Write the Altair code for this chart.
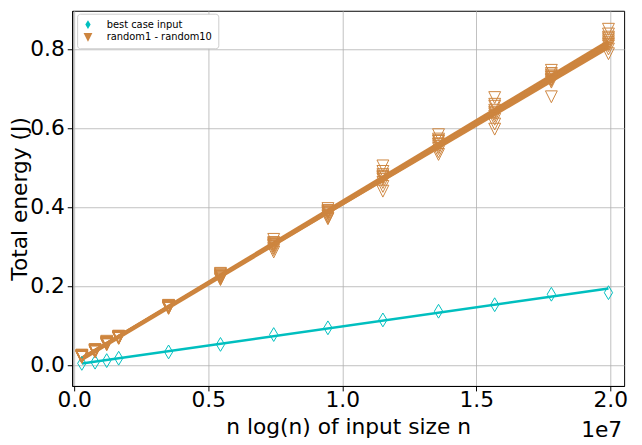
import altair as alt
import pandas as pd

# n log2(n) for n = 20k, 50k, 75k, 100k, 200k ... 1M
x_vals = [285754, 780482, 1214593, 1660964, 3521928, 5458381, 7443856,
          9465784, 11516762, 13591897, 15687712, 17801532, 19931569]

best_case = [0.004, 0.007, 0.011, 0.017, 0.033, 0.052, 0.077, 0.094,
             0.114, 0.136, 0.1525, 0.179, 0.183]

random1 = [0.024, 0.034, 0.058, 0.068, 0.150, 0.218, 0.318, 0.376, 0.504, 0.548, 0.677, 0.720, 0.812]
random2 = [0.022, 0.038, 0.052, 0.072, 0.143, 0.232, 0.292, 0.396, 0.462, 0.583, 0.622, 0.746, 0.808]
random3 = [0.020, 0.036, 0.055, 0.070, 0.148, 0.222, 0.310, 0.380, 0.482, 0.540, 0.660, 0.722, 0.826]
random4 = [0.023, 0.035, 0.057, 0.069, 0.145, 0.228, 0.296, 0.390, 0.452, 0.572, 0.610, 0.738, 0.830]
random5 = [0.021, 0.037, 0.054, 0.071, 0.151, 0.216, 0.305, 0.372, 0.490, 0.553, 0.655, 0.679, 0.850]
random6 = [0.025, 0.033, 0.056, 0.073, 0.146, 0.226, 0.286, 0.388, 0.476, 0.566, 0.645, 0.730, 0.788]
random7 = [0.019, 0.039, 0.051, 0.067, 0.149, 0.224, 0.302, 0.384, 0.440, 0.560, 0.597, 0.734, 0.838]
random8 = [0.022, 0.036, 0.060, 0.070, 0.147, 0.220, 0.308, 0.391, 0.474, 0.533, 0.640, 0.728, 0.816]
random9 = [0.020, 0.034, 0.053, 0.068, 0.144, 0.230, 0.300, 0.386, 0.478, 0.558, 0.636, 0.724, 0.821]
random10 = [0.023, 0.037, 0.055, 0.071, 0.147, 0.225, 0.304, 0.370, 0.470, 0.568, 0.630, 0.716, 0.800]

random_series = [random1, random2, random3, random4, random5,
                 random6, random7, random8, random9, random10]

group_names = ["best case input", "random1 - random10"]
CYAN = "#00BFBF"
ORANGE = "#CD853F"
THIN_DIAMOND = "M0,-1L0.6,0L0,1L-0.6,0Z"
TRI_DOWN = "M-1,-1L1,-1L0,1Z"

rows = []
for xv, yv in zip(x_vals, best_case):
    rows.append(dict(x=xv, y=yv, series="best", group=group_names[0],
                     color=CYAN, shape=THIN_DIAMOND, sz=196))
for i, s in enumerate(random_series):
    for xv, yv in zip(x_vals, s):
        rows.append(dict(x=xv, y=yv, series=f"random{i+1}", group=group_names[1],
                         color=ORANGE, shape=TRI_DOWN, sz=144))
df = pd.DataFrame(rows)

W, H = 559, 380
X = alt.X("x:Q", scale=alt.Scale(domain=[-73700, 20515600], nice=False, zero=False),
          axis=alt.Axis(values=[0, 5e6, 1e7, 1.5e7, 2e7],
                        labelExpr="format(datum.value/1e7, '.1f')",
                        title="n log(n) of input size n"))
Y = alt.Y("y:Q", scale=alt.Scale(domain=[-0.0532, 0.8968], nice=False, zero=False),
          axis=alt.Axis(values=[0, 0.2, 0.4, 0.6, 0.8], format=".1f",
                        title="Total energy (J)", titleX=-41, titleY=H / 2))

base = alt.Chart(df)

lines = base.transform_regression(
    "x", "y", groupby=["series", "color"]
).mark_line(strokeWidth=2.5).encode(
    x=X, y=Y,
    color=alt.Color("color:N", scale=None),
    detail="series:N",
)

points = base.mark_point(filled=False, strokeWidth=1, opacity=1).encode(
    x=X, y=Y,
    color=alt.Color("color:N", scale=None),
    shape=alt.Shape("shape:N", scale=None),
    size=alt.Size("sz:Q", scale=None),
)

leg = dict(title=None, orient="none", legendX=5, legendY=3, symbolOpacity=1, symbolSize=80)
legend_layer = base.mark_point(filled=True, size=0, opacity=1).encode(
    x=X, y=Y,
    color=alt.Color("group:N", scale=alt.Scale(domain=group_names, range=[CYAN, ORANGE]),
                    legend=alt.Legend(**leg)),
    shape=alt.Shape("group:N", scale=alt.Scale(domain=group_names, range=[THIN_DIAMOND, TRI_DOWN]),
                    legend=alt.Legend(**leg)),
)

offset_label = alt.Chart(pd.DataFrame({"t": ["1e7"]})).mark_text(
    align="right", baseline="alphabetic", fontSize=22, font="DejaVu Sans", color="black"
).encode(text="t:N", x=alt.value(557), y=alt.value(432))

chart = alt.layer(lines, points, legend_layer, offset_label).properties(
    width=W, height=H,
    autosize=alt.AutoSizeParams(type="none"),
    padding={"left": 65, "top": 0, "right": 10, "bottom": 57},
).configure_view(
    stroke="black", strokeWidth=1
).configure_axis(
    labelFont="DejaVu Sans", titleFont="DejaVu Sans",
    labelFontSize=22, titleFontSize=22, titleFontWeight="normal",
    labelColor="black", titleColor="black",
    domainColor="black", tickColor="black", tickSize=5, tickWidth=1,
    gridColor="#b0b0b0", gridWidth=0.8,
).configure_axisX(
    labelPadding=-1, titlePadding=6
).configure_axisY(
    labelPadding=3
).configure_legend(
    labelFont="DejaVu Sans", labelFontSize=10, labelColor="black",
    symbolSize=80, symbolStrokeWidth=0, symbolOpacity=1, padding=6, labelOffset=14,
    rowPadding=3, strokeColor="#cccccc", fillColor="white", cornerRadius=3,
)

chart.save("out.html", embed_options={"renderer": "svg", "actions": False})
